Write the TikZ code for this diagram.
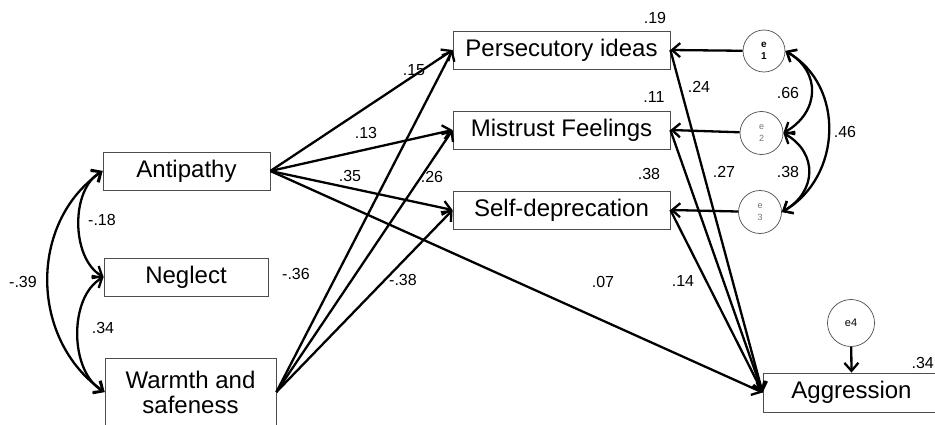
\documentclass[tikz,border=0pt]{standalone}
\usepackage{fontspec}
\setmainfont{Liberation Sans}
\usetikzlibrary{arrows.meta}

\begin{document}
\begin{tikzpicture}[x=1pt, y=1pt,
    var/.style={rectangle, draw=black!70, line width=0.8pt, minimum height=38pt,
                inner sep=0pt, font=\fontsize{24}{25}\selectfont},
    err/.style={circle, draw=black!70, line width=0.7pt, inner sep=0pt},
    path/.style={line width=2.3pt, -{Straight Barb[length=8pt, width=14pt]}},
    cov/.style={line width=2.3pt,
                {Straight Barb[length=8pt, width=14pt]}-{Straight Barb[length=8pt, width=14pt]}},
    coef/.style={font=\fontsize{16}{17}\selectfont}]

\useasboundingbox (0,0) rectangle (935,424);

% observed variables
\node[var, minimum width=167pt] (anti) at (186.5,253) {Antipathy};
\node[var, minimum width=164pt] (negl) at (186,147) {Neglect};
\node[var, minimum width=171pt, minimum height=68pt, align=center] (warm) at (190.5,32)
    {Warmth and\\safeness};
\node[var, minimum width=217pt] (pers) at (561.5,374) {Persecutory ideas};
\node[var, minimum width=217pt] (mist) at (561.5,294) {Mistrust Feelings};
\node[var, minimum width=217pt] (self) at (561.5,214) {Self-deprecation};
\node[var, minimum width=177pt, minimum height=39pt] (aggr) at (851.5,31.5) {Aggression};

% error terms
\node[err, minimum size=42pt, align=center, font=\fontsize{10}{12}\selectfont\bfseries] (e1) at (764,373) {e\\1};
\node[err, minimum size=43pt, align=center, text=black!55, font=\fontsize{9}{12}\selectfont] (e2) at (761.5,291) {e\\2};
\node[err, minimum size=43pt, align=center, text=black!55, font=\fontsize{9}{12}\selectfont] (e3) at (760,212) {e\\3};
\node[err, minimum size=47pt, font=\fontsize{11}{11}\selectfont] (e4) at (851,101) {e4};

% regression paths
\foreach \m in {pers,mist,self} {
    \draw[path] (anti.east) -- (\m.west);
    \draw[path] (warm.east) -- (\m.west);
    \draw[path] (\m.east) -- (aggr.west);
}
\draw[path] (anti.east) -- (aggr.west);
\draw[path] (e1) -- (pers.east);
\draw[path] (e2) -- (mist.east);
\draw[path] (e3) -- (self.east);
\draw[path] (e4) -- (aggr.north);

% covariances
\draw[cov] (anti.west) to[out=210, in=150, looseness=0.9] (negl.west);
\draw[cov] (negl.west) to[out=210, in=150, looseness=0.9] (warm.west);
\draw[cov] (anti.west) to[out=215, in=145, looseness=1.05] (warm.west);
\draw[cov] (e1.east) to[out=-30, in=30, looseness=1.3] (e2.east);
\draw[cov] (e2.east) to[out=-30, in=30, looseness=1.3] (e3.east);
\draw[cov] (e1.east) to[out=-30, in=30, looseness=1.1] (e3.east);

% coefficients
\node[coef] (rpers) at (655,406) {.19};
\node[coef] (rmist) at (654,327) {.11};
\node[coef] (rself) at (649,250) {.38};
\node[coef, anchor=east, inner xsep=1pt] (raggr) at (935,61) {.34};
\node[coef] (bpa) at (699,337) {.24};
\node[coef] (bma) at (724,252) {.27};
\node[coef] (bsa) at (683,143) {.14};
\node[coef] (bap) at (414,354) {.15};
\node[coef] (bam) at (366,291) {.13};
\node[coef] (bas) at (350,248) {.35};
\node[coef] (baa) at (603,142) {.07};
\node[coef] (bwp) at (296,150) {-.36};
\node[coef] (bwm) at (432,247) {.26};
\node[coef] (bws) at (403,144) {-.38};
\node[coef] (can) at (102,204) {-.18};
\node[coef] (cnw) at (103,96) {.34};
\node[coef] (caw) at (23,142) {-.39};
\node[coef] (c12) at (788,331) {.66};
\node[coef] (c23) at (788,252) {.38};
\node[coef] (c13) at (845,292) {.46};
\end{tikzpicture}
\end{document}
